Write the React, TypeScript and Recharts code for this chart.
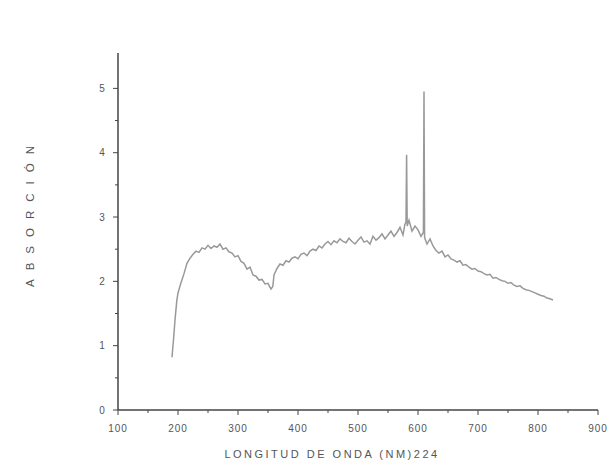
import { LineChart, Line, XAxis, YAxis } from 'recharts';

// wavelength (nm) and absorbance
const wavelengths = [
  190, 193, 195, 198, 200, 205, 210, 215, 220, 225, 230, 235, 240, 245, 250, 255, 260, 265, 270, 275,
  280, 285, 290, 295, 300, 305, 310, 315, 320, 325, 330, 335, 340, 345, 350, 355, 358, 360, 365, 370,
  375, 380, 385, 390, 395, 400, 405, 410, 415, 420, 425, 430, 435, 440, 445, 450, 455, 460, 465, 470,
  475, 480, 485, 490, 495, 500, 505, 510, 515, 520, 525, 530, 535, 540, 545, 550, 555, 560, 565, 570,
  575, 578, 580, 581, 582, 585, 590, 595, 600, 605, 609, 610, 611, 615, 620, 625, 630, 635, 640, 645,
  650, 655, 660, 665, 670, 675, 680, 685, 690, 695, 700, 705, 710, 715, 720, 725, 730, 735, 740, 745,
  750, 755, 760, 765, 770, 775, 780, 785, 790, 795, 800, 805, 810, 815, 820, 825,
];

const absorbance = [
  0.82, 1.15, 1.40, 1.70, 1.82, 1.98, 2.12, 2.28, 2.36, 2.42, 2.47, 2.45, 2.52, 2.50, 2.56, 2.51, 2.55, 2.53, 2.58, 2.50,
  2.52, 2.46, 2.44, 2.38, 2.40, 2.31, 2.28, 2.19, 2.22, 2.10, 2.08, 2.02, 2.03, 1.96, 1.97, 1.88, 1.92, 2.10, 2.20, 2.27,
  2.25, 2.32, 2.30, 2.36, 2.38, 2.35, 2.42, 2.44, 2.40, 2.47, 2.50, 2.48, 2.55, 2.52, 2.58, 2.62, 2.57, 2.63, 2.60, 2.66,
  2.62, 2.60, 2.67, 2.62, 2.58, 2.64, 2.69, 2.61, 2.63, 2.58, 2.70, 2.64, 2.68, 2.74, 2.66, 2.72, 2.78, 2.70, 2.76, 2.84,
  2.72, 2.88, 2.92, 3.97, 2.86, 2.95, 2.78, 2.86, 2.80, 2.70, 2.76, 4.95, 2.68, 2.58, 2.66, 2.55, 2.48, 2.44, 2.47, 2.38,
  2.41, 2.35, 2.33, 2.30, 2.32, 2.25, 2.26, 2.22, 2.19, 2.20, 2.16, 2.15, 2.12, 2.10, 2.11, 2.05, 2.06, 2.03, 2.01, 2.00,
  1.97, 1.98, 1.94, 1.92, 1.93, 1.89, 1.87, 1.86, 1.84, 1.82, 1.80, 1.78, 1.77, 1.74, 1.73, 1.71,
];

const xTicks = [100, 150, 200, 250, 300, 350, 400, 450, 500, 550, 600, 650, 700, 750, 800, 850, 900];
const yTicks = [0, 0.5, 1, 1.5, 2, 2.5, 3, 3.5, 4, 4.5, 5, 5.5];

const data = wavelengths.map((nm, i) => ({ nm, abs: absorbance[i] }));

const axisColor = '#444';
const tickColor = '#555';

const XTick = (props: any) => {
  const { x, y, payload } = props;
  const major = payload.value % 100 === 0;
  return (
    <g>
      <line x1={x} x2={x} y1={y} y2={y + (major ? 5 : 3)} stroke={axisColor} />
      {major && (
        <text x={x} y={y + 22} textAnchor="middle" fontSize={10} fill={tickColor} letterSpacing={1}>
          {payload.value}
        </text>
      )}
    </g>
  );
};

const YTick = (props: any) => {
  const { x, y, payload } = props;
  const major = Number.isInteger(payload.value);
  if (payload.value > 5) return null;
  return (
    <g>
      <line x1={x} x2={x - (major ? 5 : 3)} y1={y} y2={y} stroke={axisColor} />
      {major && (
        <text x={x - 16} y={y + 3.5} textAnchor="middle" fontSize={10} fill={tickColor}>
          {payload.value}
        </text>
      )}
    </g>
  );
};

const XLabel = () => (
  <text x={332} y={458} textAnchor="middle" fontSize={11} fill="#555" letterSpacing={2.5}>
    LONGITUD DE ONDA (NM)224
  </text>
);

const YLabel = () => (
  <text
    x={34}
    y={212}
    transform="rotate(-90 34 212)"
    textAnchor="middle"
    fontSize={11.5}
    fill="#555"
    letterSpacing={9}
  >
    ABSORCIÓN
  </text>
);

export default function App() {
  return (
    <div
      style={{
        position: 'absolute',
        left: 0,
        top: 0,
        width: 610,
        height: 468,
        background: '#fff',
        fontFamily: '"Liberation Sans", Arial, sans-serif',
      }}
    >
      <LineChart width={610} height={468} data={data} margin={{ top: 53, right: 12, bottom: 38, left: 98 }}>
        <XAxis
          dataKey="nm"
          type="number"
          domain={[100, 900]}
          ticks={xTicks}
          interval={0}
          tickSize={0}
          tickMargin={0}
          tickLine={false}
          tick={<XTick />}
          height={20}
          stroke={axisColor}
          strokeWidth={1.5}
          label={<XLabel />}
        />
        <YAxis
          type="number"
          domain={[0, 5.55]}
          ticks={yTicks}
          interval={0}
          tickSize={0}
          tickMargin={0}
          tickLine={false}
          tick={<YTick />}
          width={20}
          stroke={axisColor}
          strokeWidth={1.5}
          label={<YLabel />}
        />
        <Line
          type="linear"
          dataKey="abs"
          stroke="#999"
          strokeWidth={1.5}
          dot={false}
          isAnimationActive={false}
        />
      </LineChart>
    </div>
  );
}
